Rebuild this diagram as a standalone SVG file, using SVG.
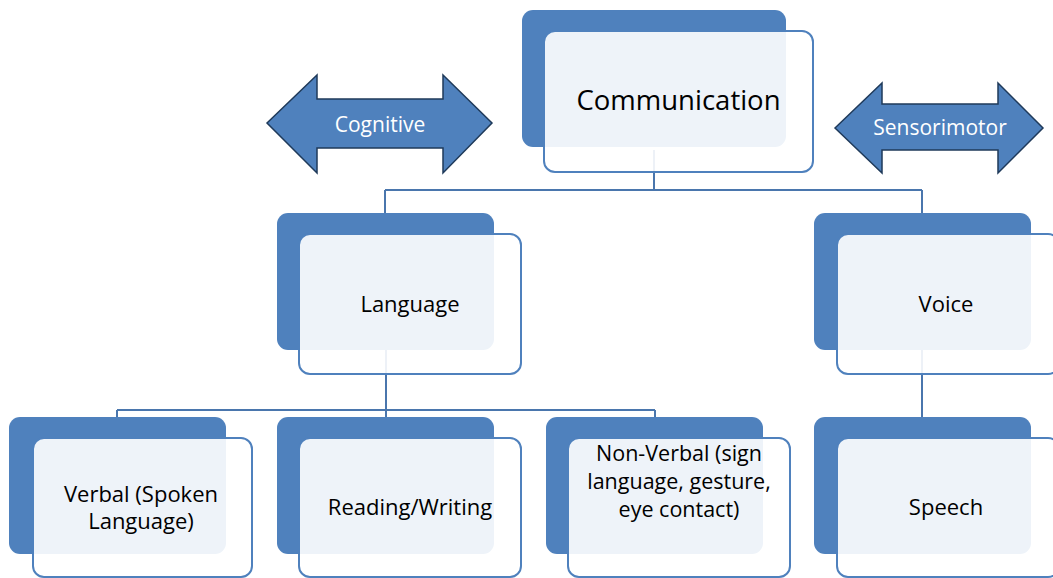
<svg xmlns="http://www.w3.org/2000/svg" width="1053" height="578" viewBox="0 0 1053 578">
<style>
.back{fill:#4F81BD;}
.front{fill:#FFFFFF;fill-opacity:0.9;stroke:#4F81BD;stroke-width:2;}
.conn{stroke:#4A76AD;stroke-width:2;fill:none;}
.lbl{font-family:"Open Sans","Liberation Sans",sans-serif;fill:#000;text-anchor:middle;font-size:22px;}
.big{font-size:27.5px;}
.sm{font-size:21.5px;}
.arr{fill:#4F81BD;stroke:#1F3A5A;stroke-width:1.5;stroke-linejoin:miter;}
.alb{font-family:"Open Sans","Liberation Sans",sans-serif;fill:#fff;text-anchor:middle;font-size:21px;}
</style>
<rect width="1053" height="578" fill="#fff"/>
<g id="connectors">
<path class="conn" d="M654,150 V190 M385,190 H922 M385,190 V213 M922,190 V213"/>
<path class="conn" d="M386,350 V410 M117,410 H655 M117,410 V417 M386,410 V417 M655,410 V417"/>
<path class="conn" d="M922,350 V417"/>
</g>
<g id="cognitive">
<polygon class="arr" points="267,123 317,75 317,99 443,99 443,75 492,123 443,173 443,148 317,148 317,173"/>
<text class="alb" x="380" y="132">Cognitive</text>
</g>
<g id="sensorimotor">
<polygon class="arr" points="835,128 882,83 882,104 998,104 998,83 1043,128 998,173 998,150 882,150 882,173"/>
<text class="alb" x="940" y="135">Sensorimotor</text>
</g>
<g id="communication">
<rect class="back" x="522" y="10" width="264" height="137" rx="11"/>
<rect class="front" x="544" y="31" width="269" height="141" rx="11"/>
<text class="lbl big" x="678.5" y="110">Communication</text>
</g>
<g id="language">
<rect class="back" x="277" y="213" width="217" height="137" rx="11"/>
<rect class="front" x="299" y="234" width="222" height="140" rx="11"/>
<text class="lbl" x="410" y="312">Language</text>
</g>
<g id="voice">
<rect class="back" x="814" y="213" width="217" height="137" rx="11"/>
<rect class="front" x="837" y="234" width="222" height="140" rx="11"/>
<text class="lbl" x="946" y="312">Voice</text>
</g>
<g id="verbal">
<rect class="back" x="9" y="417" width="217" height="137" rx="11"/>
<rect class="front" x="33" y="438" width="219" height="139" rx="11"/>
<text class="lbl" x="141" y="502"><tspan x="141">Verbal (Spoken</tspan><tspan x="141" dy="27">Language)</tspan></text>
</g>
<g id="reading">
<rect class="back" x="277" y="417" width="217" height="137" rx="11"/>
<rect class="front" x="299" y="438" width="222" height="139" rx="11"/>
<text class="lbl" x="410" y="515">Reading/Writing</text>
</g>
<g id="nonverbal">
<rect class="back" x="546" y="417" width="217" height="137" rx="11"/>
<rect class="front" x="568" y="438" width="222" height="139" rx="11"/>
<text class="lbl sm" x="679" y="461"><tspan x="679">Non-Verbal (sign</tspan><tspan x="679" dy="28">language, gesture,</tspan><tspan x="679" dy="28">eye contact)</tspan></text>
</g>
<g id="speech">
<rect class="back" x="814" y="417" width="217" height="137" rx="11"/>
<rect class="front" x="837" y="438" width="222" height="139" rx="11"/>
<text class="lbl" x="946" y="515">Speech</text>
</g>
</svg>
